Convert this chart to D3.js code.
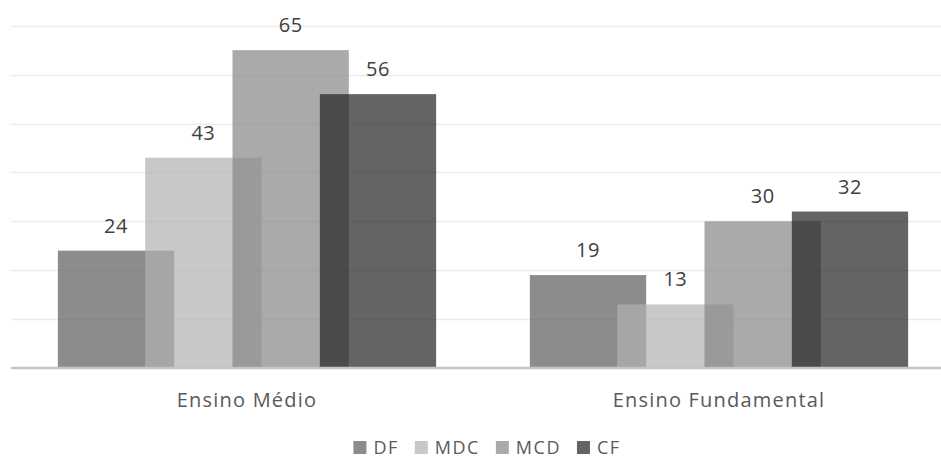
<!DOCTYPE html>
<html>
<head>
<meta charset="utf-8">
<script src="https://cdn.jsdelivr.net/npm/d3@7/dist/d3.min.js"></script>
<style>
  html, body { margin: 0; padding: 0; background: #fff; }
  svg { display: block; }
  text { font-family: "Open Sans", "Noto Sans", sans-serif; }
</style>
</head>
<body>
<svg id="chart" width="941" height="459"></svg>
<script>
const categories = ["Ensino Médio", "Ensino Fundamental"];
const seriesNames = ["DF", "MDC", "MCD", "CF"];
const DF  = [24, 19];
const MDC = [43, 13];
const MCD = [65, 30];
const CF  = [56, 32];
const seriesValues = [DF, MDC, MCD, CF];
const yTicks = [0, 10, 20, 30, 40, 50, 60, 70];

const fills = ["#5b5b5b", "#b0b0b0", "#868686", "#222222"];
const legendFills = ["#8c8c8c", "#c8c8c8", "#aaaaaa", "#646464"];

const W = 941, H = 459;
const svg = d3.select("#chart");

const x0 = d3.scaleBand().domain(categories).range([11, 955]).padding(0);
const y = d3.scaleLinear().domain([0, 70]).range([368, 25.7]);

const bw = x0.bandwidth();
const barW = bw * 0.2464;
const stepW = bw * 0.185;
const xs = d3.scalePoint().domain(seriesNames).range([-1.5 * stepW, 1.5 * stepW]);

// gridlines
svg.append("g").selectAll("line").data(yTicks.filter(t => t > 0)).join("line")
  .attr("x1", 11).attr("x2", W)
  .attr("y1", d => Math.round(y(d)) + 0.5).attr("y2", d => Math.round(y(d)) + 0.5)
  .attr("stroke", "#ececec").attr("stroke-width", 1.5);

// bars
const barsG = svg.append("g");
seriesNames.forEach((s, si) => {
  barsG.append("g").selectAll("rect").data(seriesValues[si]).join("rect")
    .attr("x", (d, i) => x0(categories[i]) + bw / 2 + xs(s) - barW / 2)
    .attr("width", barW)
    .attr("y", d => y(d))
    .attr("height", d => y(0) - y(d))
    .attr("fill", fills[si])
    .attr("fill-opacity", 0.7);
});

// axis line
svg.append("line").attr("x1", 11).attr("x2", W).attr("y1", y(0)).attr("y2", y(0))
  .attr("stroke", "#c4c4c4").attr("stroke-width", 2.5);

// value labels
seriesNames.forEach((s, si) => {
  svg.append("g").selectAll("text").data(seriesValues[si]).join("text")
    .attr("x", (d, i) => x0(categories[i]) + bw / 2 + xs(s))
    .attr("y", d => y(d) - 18)
    .attr("text-anchor", "middle")
    .attr("font-size", 20)
    .attr("letter-spacing", 0.5)
    .attr("fill", "#404040")
    .text(d => d);
});

// category labels
svg.append("g").selectAll("text").data(categories).join("text")
  .attr("x", d => x0(d) + bw / 2)
  .attr("y", 406.5)
  .attr("text-anchor", "middle")
  .attr("font-size", 20)
  .attr("letter-spacing", 1.2)
  .attr("fill", "#595959")
  .text(d => d);

// legend
const lg = svg.append("g");
const items = lg.selectAll("g").data(seriesNames).join("g");
items.append("rect").attr("width", 13).attr("height", 13).attr("y", 441)
  .attr("fill", (d, i) => legendFills[i]);
items.append("text").attr("x", 20).attr("y", 454)
  .attr("font-size", 18).attr("letter-spacing", 1.5).attr("fill", "#595959").text(d => d);
let xpos = 0;
const positions = [];
items.each(function(d) {
  const tw = d3.select(this).select("text").node().getComputedTextLength();
  positions.push(xpos);
  xpos += 20 + tw + 16;
});
const totalW = xpos - 16;
const startX = 487 - totalW / 2;
items.attr("transform", (d, i) => `translate(${startX + positions[i]},0)`);
</script>
</body>
</html>
